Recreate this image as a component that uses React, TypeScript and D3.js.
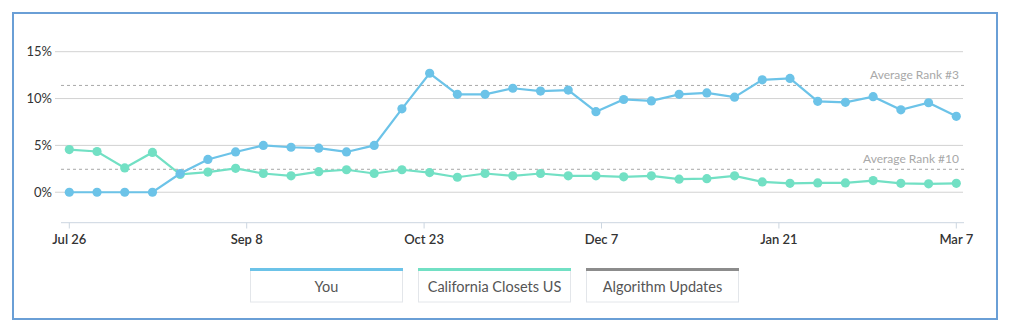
import React from "react";
import * as d3 from "d3";

const youValues = [0, 0, 0, 0, 2.0, 3.5, 4.3, 5.0, 4.8, 4.7, 4.3, 5.0, 8.9, 12.7, 10.45, 10.45, 11.1, 10.8, 10.9, 8.6, 9.9, 9.75, 10.45, 10.6, 10.15, 12.0, 12.15, 9.7, 9.6, 10.2, 8.8, 9.55, 8.1];
const competitorValues = [4.55, 4.35, 2.6, 4.25, 1.9, 2.15, 2.55, 2.0, 1.75, 2.2, 2.4, 2.0, 2.4, 2.1, 1.6, 2.0, 1.75, 2.0, 1.75, 1.75, 1.65, 1.75, 1.4, 1.45, 1.75, 1.1, 0.95, 1.0, 1.0, 1.25, 0.95, 0.9, 0.95];
const xTickLabels = ["Jul 26", "Sep 8", "Oct 23", "Dec 7", "Jan 21", "Mar 7"];
const yTicks = [0, 5, 10, 15];
const avgLines = [
  { label: "Average Rank #3", value: 11.4 },
  { label: "Average Rank #10", value: 2.45 },
];
const legendItems = [
  { label: "You", color: "#6cc3e8" },
  { label: "California Closets US", color: "#72e0c4" },
  { label: "Algorithm Updates", color: "#8c8c8c" },
];

const FONT = "Lato, 'Open Sans', sans-serif";

export default function App() {
  const W = 1009, H = 324;
  const n = youValues.length;
  const x = d3.scaleLinear().domain([0, n - 1]).range([69.3, 956.3]);
  const y = d3.scaleLinear().domain([-3.25, 15]).range([222.7, 51.7]);
  const line = d3.line<number>().x((_, i) => x(i)).y((d) => y(d));
  const tickPos = d3.range(xTickLabels.length).map((i) => (i * (n - 1)) / (xTickLabels.length - 1));
  const series = [
    { values: competitorValues, color: legendItems[1].color },
    { values: youValues, color: legendItems[0].color },
  ];
  const legendW = 152, legendGap = 16, legendX0 = 250.5, legendTop = 269, legendH = 33;

  return (
    <svg width={W} height={H} style={{ position: "absolute", left: 0, top: 0, background: "#fff" }} fontFamily={FONT}>
      <rect x={13} y={13} width={984} height={306} fill="#fff" stroke="#6a9fd6" strokeWidth={2} />
      {yTicks.map((t) => (
        <g key={t}>
          <line x1={55} x2={963} y1={y(t)} y2={y(t)} stroke="#d2d2d2" strokeWidth={1} />
          <text x={52} y={y(t) + 4.5} textAnchor="end" fontSize={13} fill="#333">{t}%</text>
        </g>
      ))}
      {avgLines.map((a) => (
        <g key={a.label}>
          <line x1={61} x2={965} y1={y(a.value)} y2={y(a.value)} stroke="#a8a8a8" strokeWidth={1} strokeDasharray="3,3" />
          <text x={959} y={y(a.value) - 6} textAnchor="end" fontSize={12} fill="#a8a8a8">{a.label}</text>
        </g>
      ))}
      <line x1={61} x2={964} y1={222.7} y2={222.7} stroke="#ccd6e0" strokeWidth={1} />
      {tickPos.map((p, i) => (
        <g key={i}>
          <line x1={x(p)} x2={x(p)} y1={222.7} y2={228.5} stroke="#ccd6e0" strokeWidth={1} />
          <text x={x(p)} y={243.5} textAnchor="middle" fontSize={13} fontWeight={600} fill="#333">{xTickLabels[i]}</text>
        </g>
      ))}
      {series.map((s, si) => (
        <g key={si}>
          <path d={line(s.values) || ""} fill="none" stroke={s.color} strokeWidth={2.2} />
          {s.values.map((v, i) => (
            <circle key={i} cx={x(i)} cy={y(v)} r={4.6} fill={s.color} />
          ))}
        </g>
      ))}
      {legendItems.map((item, i) => {
        const lx = legendX0 + i * (legendW + legendGap);
        return (
          <g key={item.label}>
            <rect x={lx} y={legendTop} width={legendW} height={legendH} fill="#fff" stroke="#e3e6ea" strokeWidth={1} />
            <rect x={lx - 0.5} y={legendTop - 1} width={legendW + 1} height={3} fill={item.color} />
            <text x={lx + legendW / 2} y={legendTop + 23} textAnchor="middle" fontSize={14.5} fill="#555">{item.label}</text>
          </g>
        );
      })}
    </svg>
  );
}
